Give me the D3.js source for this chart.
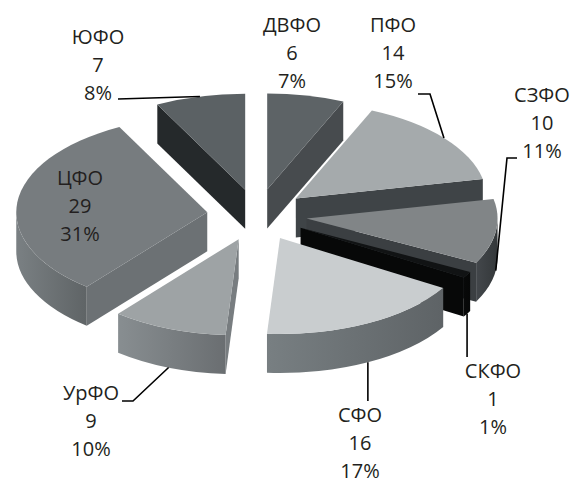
<!DOCTYPE html>
<html>
<head>
<meta charset="utf-8">
<script src="https://cdn.jsdelivr.net/npm/d3@7/dist/d3.min.js"></script>
<style>
  html, body { margin: 0; padding: 0; background: #fff; }
  text { font-family: "Open Sans", "Noto Sans", sans-serif; fill: #231f20; }
</style>
</head>
<body>
<div id="chart"></div>
<script>
// data
const regions = ['ДВФО', 'ПФО', 'СЗФО', 'СКФО', 'СФО', 'УрФО', 'ЦФО', 'ЮФО'];
const counts = [6, 14, 10, 1, 16, 9, 29, 7];
const shares = ['7%', '15%', '11%', '1%', '17%', '10%', '31%', '8%'];

// styles per slice
const topColors  = ['#5d6366', '#a5aaac', '#818587', '#111314', '#c9cdcf', '#9ea3a5', '#777c7f', '#5b6164'];
const sideColors = ['#474b4e', '#3f4447', '#3b3f42', '#070808', '#6a7073', '#787d80', '#6c7174', '#25292b'];

// label layout: centre x, first baseline, leader points after the anchor on the slice
const labelLayout = [
    { x: 292, y: 32, leader: null },
    { x: 393, y: 32, leader: [[430, 94], [418, 94]] },
    { x: 542, y: 102, leader: [[507, 158], [517, 158]] },
    { x: 493, y: 378, leader: [[null, 357]] },
    { x: 360, y: 422, leader: [[null, 401]] },
    { x: 91, y: 400, leader: [[133, 401], [122, 401]] },
    { x: 80, y: 185, leader: null },
    { x: 98, y: 44, leader: [[118, 99]] }
];

const option = {
    width: 573,
    height: 486,
    cx: 257,
    cy: 215,
    rx: 191,
    ry: 96,
    depth: 39,
    explode: 50,
    explodeK: 0.52,
    lineHeight: 28,
    fontSize: 20
};

const svg = d3.select('#chart').append('svg')
    .attr('width', option.width)
    .attr('height', option.height);

const defs = svg.append('defs');

const pie = d3.pie().sort(null).value(d => d);
const arcs = pie(counts).map((d, i) => {
    const mid = (d.startAngle + d.endAngle) / 2;
    return Object.assign(d, {
        i: i,
        mid: mid,
        ox: option.explode * Math.sin(mid),
        oy: -option.explode * option.explodeK * Math.cos(mid)
    });
});

// point on the slice rim at angle a (clockwise from top), z = 0 top, z = depth bottom
function pt(d, a, r, z) {
    return [
        option.cx + d.ox + r * option.rx * Math.sin(a),
        option.cy + d.oy - r * option.ry * Math.cos(a) + z
    ];
}
function centre(d, z) {
    return [option.cx + d.ox, option.cy + d.oy + z];
}

function topPath(d) {
    const p0 = pt(d, d.startAngle, 1, 0), p1 = pt(d, d.endAngle, 1, 0), c = centre(d, 0);
    const large = d.endAngle - d.startAngle > Math.PI ? 1 : 0;
    return `M${c}L${p0}A${option.rx},${option.ry} 0 ${large} 1 ${p1}Z`;
}

function wallPath(d, a) {
    const c0 = centre(d, 0), c1 = centre(d, option.depth);
    const p0 = pt(d, a, 1, 0), p1 = pt(d, a, 1, option.depth);
    return `M${c0}L${p0}L${p1}L${c1}Z`;
}

function outerPath(d) {
    const b0 = Math.max(d.startAngle, Math.PI / 2);
    const b1 = Math.min(d.endAngle, Math.PI * 1.5);
    if (b1 <= b0) return null;
    const t0 = pt(d, b0, 1, 0), t1 = pt(d, b1, 1, 0);
    const u0 = pt(d, b0, 1, option.depth), u1 = pt(d, b1, 1, option.depth);
    const large = b1 - b0 > Math.PI ? 1 : 0;
    return `M${t0}A${option.rx},${option.ry} 0 ${large} 1 ${t1}L${u1}A${option.rx},${option.ry} 0 ${large} 0 ${u0}Z`;
}

// draw back slices first
const order = arcs.slice().sort((a, b) => (-Math.cos(a.mid)) - (-Math.cos(b.mid)));

const g = svg.append('g');

order.forEach(d => {
    const cell = g.append('g').attr('class', 'slice');

    // radial walls
    if (Math.sin(d.startAngle) < -0.01) {
        cell.append('path')
            .attr('d', wallPath(d, d.startAngle))
            .style('fill', sideColors[d.i]);
    }
    if (Math.sin(d.endAngle) > 0.01) {
        cell.append('path')
            .attr('d', wallPath(d, d.endAngle))
            .style('fill', sideColors[d.i]);
    }

    // outer rim
    const op = outerPath(d);
    if (op) {
        const b0 = Math.max(d.startAngle, Math.PI / 2);
        const b1 = Math.min(d.endAngle, Math.PI * 1.5);
        const xs = [pt(d, b0, 1, 0)[0], pt(d, b1, 1, 0)[0]];
        const gid = 'rim' + d.i;
        const base = d3.color(sideColors[d.i]);
        const grad = defs.append('linearGradient')
            .attr('id', gid)
            .attr('gradientUnits', 'userSpaceOnUse')
            .attr('x1', d3.min(xs)).attr('x2', d3.max(xs))
            .attr('y1', 0).attr('y2', 0);
        grad.append('stop').attr('offset', 0).attr('stop-color', base.brighter(0.35));
        grad.append('stop').attr('offset', 1).attr('stop-color', base.darker(0.35));
        cell.append('path')
            .attr('d', op)
            .style('fill', `url(#${gid})`);
    }

    // top face
    cell.append('path')
        .attr('d', topPath(d))
        .style('fill', topColors[d.i]);
});

// leaders
arcs.forEach(d => {
    const lay = labelLayout[d.i];
    if (!lay.leader) return;
    const front = Math.cos(d.mid) < 0;
    const anchor = pt(d, d.mid, 1, front ? option.depth : 0);
    const pts = [anchor].concat(lay.leader.map(p => [p[0] === null ? anchor[0] : p[0], p[1]]));
    svg.append('path')
        .attr('d', d3.line()(pts))
        .style('fill', 'none')
        .style('stroke', '#000')
        .style('stroke-width', 1.6);
});

// labels
arcs.forEach(d => {
    const lay = labelLayout[d.i];
    const t = svg.append('text')
        .attr('text-anchor', 'middle')
        .style('font-size', option.fontSize + 'px');
    [regions[d.i], counts[d.i], shares[d.i]].forEach((s, k) => {
        t.append('tspan')
            .attr('x', lay.x)
            .attr('y', lay.y + k * option.lineHeight)
            .text(s);
    });
});
</script>
</body>
</html>
